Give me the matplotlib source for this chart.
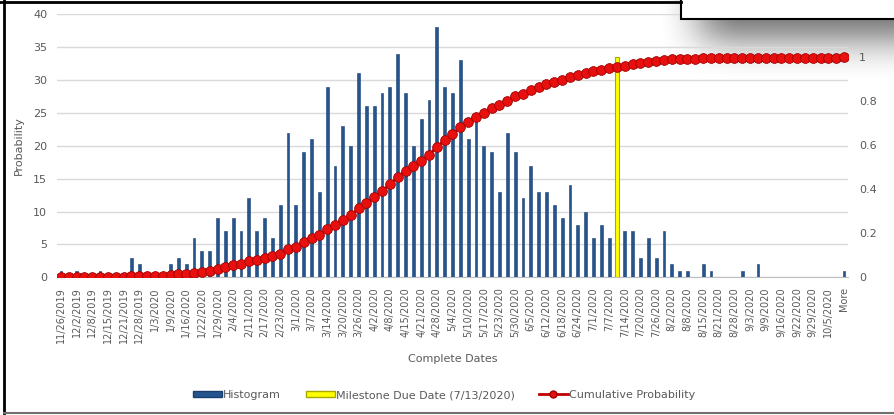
import numpy as np
import matplotlib
matplotlib.use('Agg')
import matplotlib.pyplot as plt
from matplotlib.lines import Line2D
from matplotlib.patches import Patch, Rectangle

# category labels (Excel shows every second bin)
date_labels = ['11/26/2019', '12/2/2019', '12/8/2019', '12/15/2019', '12/21/2019',
               '12/28/2019', '1/3/2020', '1/9/2020', '1/16/2020', '1/22/2020',
               '1/29/2020', '2/4/2020', '2/11/2020', '2/17/2020', '2/23/2020',
               '3/1/2020', '3/7/2020', '3/14/2020', '3/20/2020', '3/26/2020',
               '4/2/2020', '4/8/2020', '4/15/2020', '4/21/2020', '4/28/2020',
               '5/4/2020', '5/10/2020', '5/17/2020', '5/23/2020', '5/30/2020',
               '6/5/2020', '6/12/2020', '6/18/2020', '6/24/2020', '7/1/2020',
               '7/7/2020', '7/14/2020', '7/20/2020', '7/26/2020', '8/2/2020',
               '8/8/2020', '8/15/2020', '8/21/2020', '8/28/2020', '9/3/2020',
               '9/9/2020', '9/16/2020', '9/22/2020', '9/29/2020', '10/5/2020',
               'More']

# histogram counts, one per bin (101 bins incl. "More")
counts = [1, 0, 1, 0, 0, 1, 0, 0, 0, 3,
          2, 0, 0, 0, 2, 3, 2, 6, 4, 4,
          9, 7, 9, 7, 12, 7, 9, 6, 11, 22,
          11, 19, 21, 13, 29, 17, 23, 20, 31, 26,
          26, 28, 29, 34, 28, 20, 24, 27, 38, 29,
          28, 33, 21, 24, 20, 19, 13, 22, 19, 12,
          17, 13, 13, 11, 9, 14, 8, 10, 6, 8,
          6, 6, 7, 7, 3, 6, 3, 7, 2, 1,
          1, 0, 2, 1, 0, 0, 0, 1, 0, 2,
          0, 0, 0, 0, 0, 0, 0, 0, 0, 0,
          1]

milestone_bin = 71   # 7/13/2020 falls in this bin
milestone_label = 'Milestone Due Date (7/13/2020)'

cum_prob = np.cumsum(counts) / np.sum(counts)
x = np.arange(len(counts))

W, H = 894, 415
fig = plt.figure(figsize=(W / 100, H / 100), dpi=100)
fig.patch.set_facecolor('white')

txt = '#595959'
grid = '#D9D9D9'

# soft shadow behind the box in the top right corner
ax_bg = fig.add_axes([0, 0, 1, 1], zorder=0)
ax_bg.set_xlim(0, W)
ax_bg.set_ylim(H, 0)
ax_bg.axis('off')
pad = 90
yy, xx = np.mgrid[-pad:H + pad, -pad:W + pad]
m = ((xx >= 700) & (yy <= 38)).astype(float)
k = np.ones(45) / 45
for _ in range(2):
    m = np.apply_along_axis(lambda r: np.convolve(r, k, mode='same'), 1, m)
    m = np.apply_along_axis(lambda c: np.convolve(c, k, mode='same'), 0, m)
sh = np.zeros((H, W, 4))
sh[..., 3] = 0.6 * m[pad:pad + H, pad:pad + W]
ax_bg.imshow(sh, extent=(0, W, H, 0), aspect='auto', interpolation='bilinear')

left, right = 57 / W, 848 / W
bottom, top = 1 - 277.3 / H, 1 - 14.3 / H
ax = fig.add_axes([left, bottom, right - left, top - bottom], zorder=1)
ax.patch.set_alpha(0)
ax.bar(x, counts, width=0.36, color='#24558F', edgecolor='#1A3F6E', linewidth=0.4, zorder=3)
ax.set_xlim(-0.5, len(counts) - 0.5)
ax.set_ylim(0, 40)
ax.set_yticks(np.arange(0, 41, 5))
ax.yaxis.grid(True, color=grid, linewidth=1)
ax.set_axisbelow(True)
for s in ['top', 'right', 'left']:
    ax.spines[s].set_visible(False)
ax.spines['bottom'].set_color('#BFBFBF')
ax.set_xticks(x[::2])
ax.set_xticklabels(date_labels, rotation=90, fontsize=7, color=txt)
ax.tick_params(axis='x', length=0, pad=7)
ax.tick_params(axis='y', length=0, pad=7, labelsize=8, labelcolor=txt)
ax.set_xlabel('Complete Dates', fontsize=8, color=txt, labelpad=8)
ax.set_ylabel('Probability', fontsize=8, color=txt, labelpad=7)

ax2 = ax.twinx()
ax2.set_zorder(2)
ax2.patch.set_alpha(0)
ax2.bar([milestone_bin], [1.0], width=0.48, color='#FFFF00', edgecolor='#A8A800',
        linewidth=0.8, zorder=2)
ax2.plot(x, cum_prob, color='#C00000', linewidth=2, marker='o', markersize=7,
         markerfacecolor='#E8100F', markeredgecolor='#A00000', markeredgewidth=0.6, zorder=3)
ax2.set_ylim(0, 40 / 33.45)
ax2.set_yticks([0, 0.2, 0.4, 0.6, 0.8, 1])
ax2.set_yticklabels(['0', '0.2', '0.4', '0.6', '0.8', '1'])
ax2.tick_params(axis='y', length=0, pad=8, labelsize=8, labelcolor=txt)
for s in ax2.spines.values():
    s.set_visible(False)

handles = [Patch(facecolor='#24558F', edgecolor='#1A3F6E'),
           Patch(facecolor='#FFFF00', edgecolor='#A8A800'),
           Line2D([0], [0], color='#C00000', linewidth=2, marker='o', markersize=5,
                  markerfacecolor='#E8100F', markeredgecolor='#A00000')]
fig.legend(handles, ['Histogram', milestone_label, 'Cumulative Probability'],
           loc='center', bbox_to_anchor=(0.497, 1 - 395 / H), ncol=3, frameon=False,
           fontsize=8, labelcolor=txt, handlelength=2.6, handleheight=0.5,
           handletextpad=0.1, columnspacing=2.2)

# frame pieces and the box on top
ax_fg = fig.add_axes([0, 0, 1, 1], zorder=5)
ax_fg.set_xlim(0, W)
ax_fg.set_ylim(H, 0)
ax_fg.axis('off')
ax_fg.plot([4, 4], [0, 413], color='black', linewidth=2)
ax_fg.plot([0, 681], [2, 2], color='black', linewidth=2)
ax_fg.plot([4, W], [413, 413], color='#707070', linewidth=1.5)
ax_fg.add_patch(Rectangle((681, -5), 230, 24, facecolor='white', edgecolor='black', linewidth=1.5))

fig.savefig('out.png', dpi=100)
